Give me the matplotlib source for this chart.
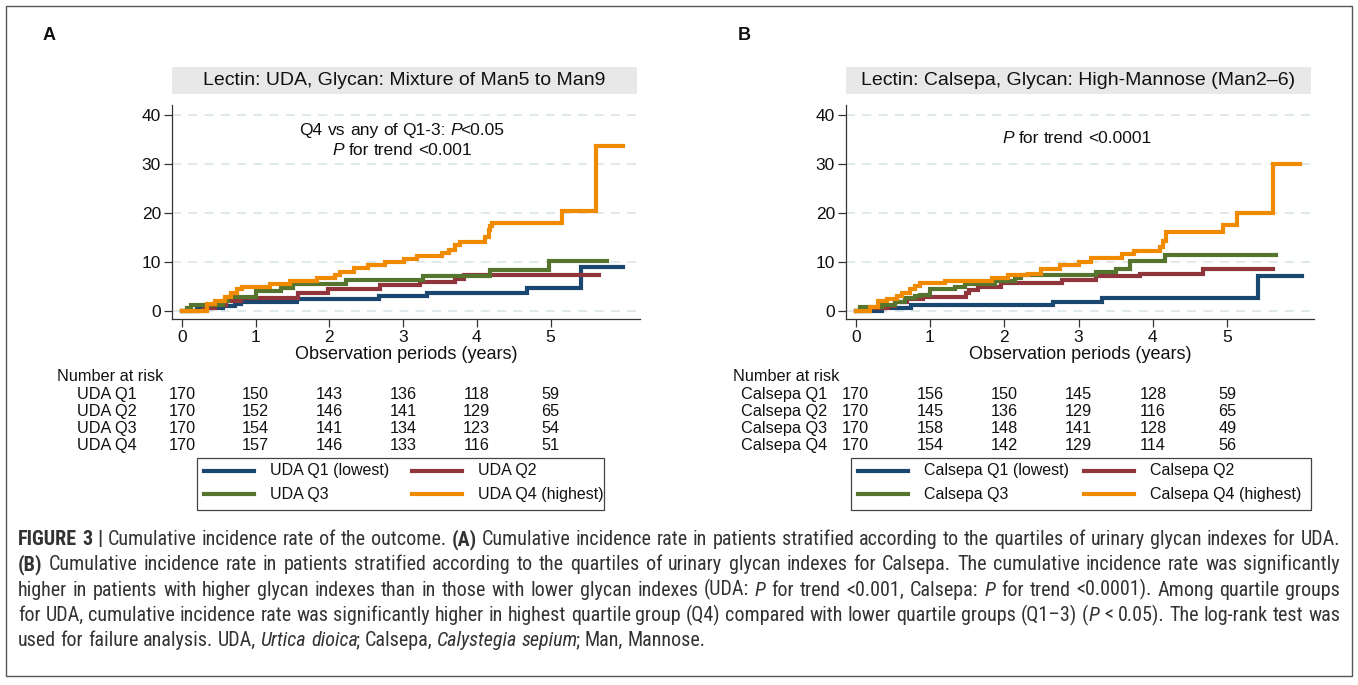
import re
import matplotlib
matplotlib.use("Agg")
import matplotlib.pyplot as plt
from matplotlib import font_manager
from matplotlib.patches import Rectangle

W, H = 1358, 685

# %% data (years, cumulative incidence %)
uda_q1_t = [0, 0.20, 0.55, 0.72, 0.80, 1.56, 2.67, 3.32, 4.68, 5.42, 5.99]
uda_q1_v = [0, 0.5, 1.0, 1.4, 1.8, 2.4, 3.0, 3.7, 4.7, 8.9, 8.9]
uda_q2_t = [0, 0.30, 0.45, 0.60, 0.80, 1.57, 1.98, 2.69, 3.23, 3.70, 3.82, 5.66]
uda_q2_v = [0, 0.6, 1.2, 1.9, 2.5, 3.6, 4.5, 5.2, 5.9, 6.5, 7.3, 7.3]
uda_q3_t = [0, 0.07, 0.12, 0.55, 0.63, 1.00, 1.35, 1.50, 2.22, 3.27, 4.18, 4.98, 5.76]
uda_q3_v = [0, 0.6, 1.2, 1.9, 2.9, 4.0, 4.6, 5.4, 6.3, 7.0, 8.4, 10.1, 10.1]
uda_q4_t = [0, 0.34, 0.45, 0.59, 0.66, 0.75, 0.81, 1.20, 1.47, 1.83, 2.08, 2.15, 2.33,
            2.53, 2.76, 3.01, 3.19, 3.53, 3.62, 3.71, 3.77, 4.11, 4.16, 4.18, 4.21,
            5.15, 5.62, 5.99]
uda_q4_v = [0, 1.3, 1.9, 2.7, 3.6, 4.5, 4.9, 5.4, 6.0, 6.7, 7.3, 8.0, 8.8,
            9.4, 10.0, 10.6, 11.2, 11.8, 12.5, 13.4, 14.1, 15.0, 16.5, 17.3, 17.9,
            20.4, 33.7, 33.7]

cal_q1_t = [0, 0.35, 0.75, 2.66, 3.31, 5.42, 6.00]
cal_q1_v = [0, 0.5, 1.2, 1.8, 2.6, 7.0, 7.0]
cal_q2_t = [0, 0.17, 0.44, 0.53, 0.69, 0.90, 1.49, 1.53, 1.65, 1.96, 2.77, 3.24, 3.83, 4.68, 5.62]
cal_q2_v = [0, 0.5, 1.0, 1.8, 2.4, 2.8, 3.6, 4.3, 4.8, 5.6, 6.2, 7.0, 7.6, 8.5, 8.5]
cal_q3_t = [0, 0.06, 0.35, 0.53, 0.66, 0.80, 0.87, 1.00, 1.34, 1.47, 1.87, 2.14, 2.23,
            3.24, 3.51, 3.69, 4.16, 5.66]
cal_q3_v = [0, 0.7, 1.2, 1.8, 2.6, 3.0, 3.3, 4.4, 4.9, 5.5, 6.0, 6.6, 7.3,
            7.9, 8.6, 10.1, 11.4, 11.4]
cal_q4_t = [0, 0.19, 0.30, 0.42, 0.55, 0.62, 0.73, 0.80, 0.87, 1.20, 1.83, 2.05, 2.32,
            2.50, 2.75, 3.00, 3.17, 3.58, 3.74, 4.09, 4.14, 4.18, 4.95, 5.13, 5.62, 5.98]
cal_q4_v = [0, 0.8, 1.9, 2.4, 3.0, 3.7, 4.5, 5.0, 5.6, 6.0, 6.7, 7.2, 7.6,
            8.6, 9.3, 10.0, 10.8, 11.5, 12.2, 13.0, 14.2, 16.1, 17.6, 19.9, 29.9, 29.9]

risk_times = [0, 1, 2, 3, 4, 5]
uda_labels = ["UDA Q1", "UDA Q2", "UDA Q3", "UDA Q4"]
uda_risk = [[170, 150, 143, 136, 118, 59],
            [170, 152, 146, 141, 129, 65],
            [170, 154, 141, 134, 123, 54],
            [170, 157, 146, 133, 116, 51]]
cal_labels = ["Calsepa Q1", "Calsepa Q2", "Calsepa Q3", "Calsepa Q4"]
cal_risk = [[170, 156, 150, 145, 128, 59],
            [170, 145, 136, 129, 116, 65],
            [170, 158, 148, 141, 128, 49],
            [170, 154, 142, 129, 114, 56]]
uda_legend = ["UDA Q1 (lowest)", "UDA Q2", "UDA Q3", "UDA Q4 (highest)"]
cal_legend = ["Calsepa Q1 (lowest)", "Calsepa Q2", "Calsepa Q3", "Calsepa Q4 (highest)"]
colors = ["#1a476f", "#90353b", "#55752f", "#f08a00"]

# %% fonts
have = {f.name for f in font_manager.fontManager.ttflist}
SANS = "Liberation Sans" if "Liberation Sans" in have else "DejaVu Sans"
CAP = next((f for f in ["Liberation Sans Narrow", "Roboto Condensed", "Open Sans Condensed"]
            if f in have), SANS)
plt.rcParams["font.family"] = SANS

fig = plt.figure(figsize=(W / 100, H / 100), dpi=100)
R = fig.canvas.get_renderer()


def fx(x):
    return x / W


def fy(y):
    return 1 - y / H


def rich(x, y, line, size, family, ha="left", width=None, color="#222222"):
    """Draw a line of words with {i:..}/{b:..} runs; optionally justify to width (px)."""
    words = []
    for w in line.split(" "):
        runs = []
        for m in re.finditer(r"\{([ib]):([^}]*)\}|([^{]+)", w):
            if m.group(3):
                runs.append((m.group(3), "n"))
            else:
                runs.append((m.group(2), m.group(1)))
        words.append(runs)
    probe = fig.text(0, 0, "n n", fontsize=size, family=family)
    probe2 = fig.text(0, 0, "nn", fontsize=size, family=family)
    space = probe.get_window_extent(R).width - probe2.get_window_extent(R).width
    probe.remove(); probe2.remove()
    placed = []
    for runs in words:
        ws = []
        for k, (s, st) in enumerate(runs):
            t = fig.text(0, fy(y), s, fontsize=size, family=family, va="baseline",
                         color=color, style="italic" if st == "i" else "normal",
                         weight="bold" if st == "b" else "normal")
            w = t.get_window_extent(R).width
            if k < len(runs) - 1:
                # italic boxes overhang, so tuck the following run in a little
                w += -2 if st == "i" else 1
            ws.append((t, w))
        placed.append(ws)
    wsum = sum(w for ws in placed for _, w in ws)
    gap = space
    if width is not None and len(placed) > 1:
        gap = (width - wsum) / (len(placed) - 1)
    total = wsum + gap * (len(placed) - 1)
    cx = x - total / 2 if ha == "center" else x
    for ws in placed:
        for t, w in ws:
            t.set_x(fx(cx))
            cx += w
        cx += gap


# outer frame
fig.add_artist(Rectangle((fx(6), fy(676)), fx(1346), (670) / H, transform=fig.transFigure,
                         fill=False, edgecolor="#555555", lw=1.0))


def panel(left, zero_px, px_yr, series_t, series_v, title, notes, letter, letter_x,
          labels, risk, legend_labels, label_x, legend_box, col2_text):
    right = left + 468
    ax = fig.add_axes([fx(left), fy(319), fx(right - left), (319 - 105) / H])
    x0 = (left - zero_px) / px_yr
    x1 = (right - zero_px) / px_yr
    ax.set_xlim(x0, x1)
    ax.set_ylim((310.7 - 319) / 4.89, (310.7 - 105) / 4.89)
    for t, v, c in zip(series_t, series_v, colors):
        ax.step(t, v, where="post", color=c, lw=3.0, solid_joinstyle="miter")
    ax.set_yticks([0, 10, 20, 30, 40])
    ax.set_xticks([0, 1, 2, 3, 4, 5])
    ax.yaxis.grid(True, color="#dce7eb", lw=1.3, ls=(0, (5, 4)))
    ax.set_axisbelow(True)
    for s in ["top", "right"]:
        ax.spines[s].set_visible(False)
    for s in ["left", "bottom"]:
        ax.spines[s].set_color("#333333")
        ax.spines[s].set_linewidth(0.9)
    ax.tick_params(labelsize=12.5, length=6, width=0.9, colors="#333333",
                   labelcolor="#111111", pad=2)
    ax.set_xlabel("Observation periods (years)", fontsize=13, labelpad=1, color="#111111")

    # title strip
    fig.add_artist(Rectangle((fx(left), fy(94)), fx(right - left - 3), 27 / H,
                             transform=fig.transFigure, facecolor="#e8e8e8", edgecolor="none"))
    fig.text(fx(left + (right - left - 3) / 2), fy(80.5), title, fontsize=14, ha="center",
             va="center", color="#111111")
    fig.text(fx(letter_x), fy(35), letter, fontsize=13, weight="bold", ha="left",
             va="center", color="#111111")
    for (nx, ny, line) in notes:
        rich(nx, ny, line, 12.5, SANS, ha="center", color="#111111")

    # number at risk table
    fig.text(fx(label_x - 20 if letter == "A" else label_x - 8), fy(381), "Number at risk",
             fontsize=11.7, va="baseline", color="#111111")
    for i, (lab, row) in enumerate(zip(labels, risk)):
        yy = 399 + 17 * i
        fig.text(fx(label_x), fy(yy), lab, fontsize=11.7, va="baseline", color="#111111")
        for t, n in zip(risk_times, row):
            xp = ax.transData.transform((t, 0))[0]
            fig.text(xp / fig.dpi / fig.get_figwidth(), fy(yy), str(n), fontsize=11.7,
                     ha="center", va="baseline", color="#111111")

    # legend
    bl, bt, br, bb = legend_box
    fig.add_artist(Rectangle((fx(bl), fy(bb)), fx(br - bl), (bb - bt) / H,
                             transform=fig.transFigure, fill=False,
                             edgecolor="#444444", lw=0.9))
    col_x = [bl + 7, col2_text - 66]
    row_y = [bt + 13, bt + 36]
    for k, (lab, c) in enumerate(zip(legend_labels, colors)):
        cx, cy = col_x[k % 2], row_y[k // 2]
        fig.add_artist(plt.Line2D([fx(cx), fx(cx + 50)], [fy(cy), fy(cy)],
                                  transform=fig.transFigure, color=c, lw=3.0))
        fig.text(fx(cx + 66), fy(cy), lab, fontsize=11.5, va="center", color="#111111")
    return ax


panel(172, 182, 73.7, [uda_q1_t, uda_q2_t, uda_q3_t, uda_q4_t],
      [uda_q1_v, uda_q2_v, uda_q3_v, uda_q4_v],
      "Lectin: UDA, Glycan: Mixture of Man5 to Man9",
      [(402, 135, "Q4 vs any of Q1-3: {i:P}<0.05"), (402, 155, "{i:P} for trend <0.001")],
      "A", 43, uda_labels, uda_risk, uda_legend, 77, (197, 458, 604, 510), 478)

panel(846, 855.7, 74.3, [cal_q1_t, cal_q2_t, cal_q3_t, cal_q4_t],
      [cal_q1_v, cal_q2_v, cal_q3_v, cal_q4_v],
      "Lectin: Calsepa, Glycan: High-Mannose (Man2\u20136)",
      [(1077, 143, "{i:P} for trend <0.0001")],
      "B", 738, cal_labels, cal_risk, cal_legend, 741, (851, 458, 1311, 510), 1150)

# %% caption
caption = [
    ("{b:FIGURE} {b:3} {b:|} Cumulative incidence rate of the outcome. {b:(A)} Cumulative incidence rate "
     "in patients stratified according to the quartiles of urinary glycan indexes for UDA.", True),
    ("{b:(B)} Cumulative incidence rate in patients stratified according to the quartiles of urinary "
     "glycan indexes for Calsepa. The cumulative incidence rate was significantly", True),
    ("higher in patients with higher glycan indexes than in those with lower glycan indexes "
     "(UDA: {i:P} for trend <0.001, Calsepa: {i:P} for trend <0.0001). Among quartile groups", True),
    ("for UDA, cumulative incidence rate was significantly higher in highest quartile group (Q4) "
     "compared with lower quartile groups (Q1\u20133) ({i:P} < 0.05). The log-rank test was", True),
    ("used for failure analysis. UDA, {i:Urtica} {i:dioica}; Calsepa, {i:Calystegia} {i:sepium}; "
     "Man, Mannose.", False),
]
for i, (line, just) in enumerate(caption):
    rich(18, 545 + 25.3 * i, line, 14.5, CAP, width=1322 if just else None, color="#333333")

fig.savefig("out.png", dpi=100)
